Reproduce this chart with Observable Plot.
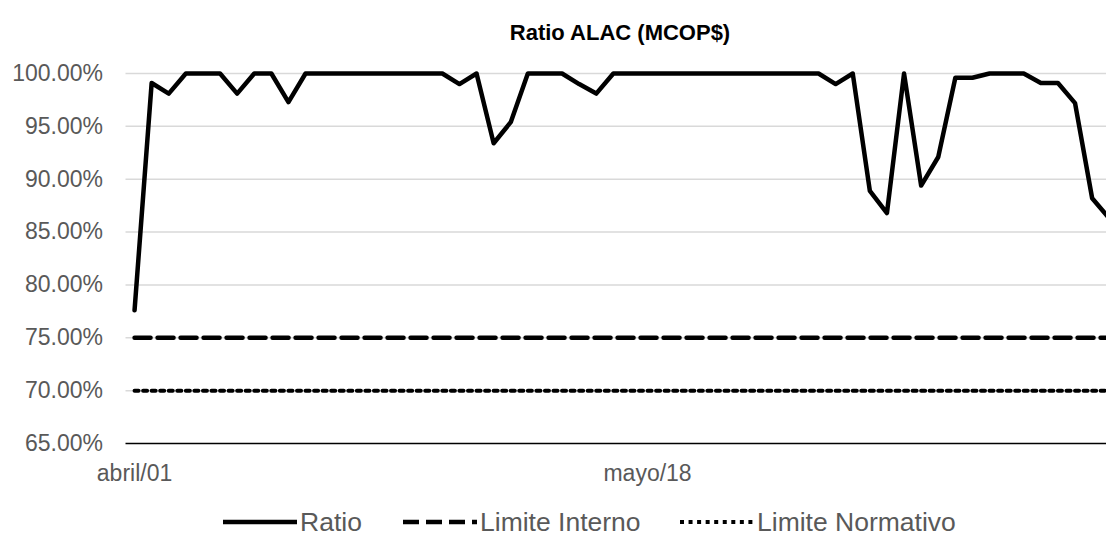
<!DOCTYPE html>
<html><head><meta charset="utf-8">
<script src="https://cdn.jsdelivr.net/npm/d3@7"></script>
<script src="https://cdn.jsdelivr.net/npm/@observablehq/plot@0.6"></script>
<style>
body{margin:0;background:#fff;font-family:"Liberation Sans",Arial,sans-serif;}
#wrap{position:relative;width:1106px;height:536px;overflow:hidden;background:#fff;}
#chart{position:absolute;top:0;left:0;}
#title{position:absolute;top:19px;left:0;width:1240px;text-align:center;font-weight:bold;font-size:22px;color:#000;line-height:28px;}
#legend{position:absolute;top:507px;left:0;width:1106px;height:30px;}
.item{position:absolute;top:0;height:30px;display:flex;align-items:center;font-size:26.5px;color:#595959;white-space:nowrap;}
.item svg{display:block;margin-right:3px;}
</style></head><body>
<div id="wrap"><div id="chart"></div><div id="title">Ratio ALAC (MCOP$)</div><div id="legend"></div></div>
<script>
// Category positions (one per reporting day); only two tick labels are shown
const categories = d3.range(58);
const tickLabels = {0: "abril/01", 30: "mayo/18"};
// Ratio ALAC (%)
const ratio = [77.6, 99.1, 98.1, 100, 100, 100, 98.1, 100, 100, 97.3,
  100, 100, 100, 100, 100, 100, 100, 100, 100, 99.0,
  100, 93.4, 95.4, 100, 100, 100, 99.0, 98.1, 100, 100,
  100, 100, 100, 100, 100, 100, 100, 100, 100, 100,
  100, 99.0, 100, 88.9, 86.8, 100, 89.4, 92.1, 99.6, 99.6,
  100, 100, 100, 99.1, 99.1, 97.2, 88.2, 86.3];
const limiteInterno = 75;
const limiteNormativo = 70;
const yTicks = [65, 70, 75, 80, 85, 90, 95, 100];

const data = categories.map((c, i) => ({c, ratio: ratio[i], interno: limiteInterno, normativo: limiteNormativo}));

const W = 1106, H = 500;
const chart = Plot.plot({
  width: W, height: H,
  marginTop: 73, marginBottom: H - 443, marginLeft: 125.5, marginRight: 0,
  style: {fontFamily: '"Liberation Sans", Arial, sans-serif', fontSize: "23px", color: "#595959", background: "#fff", overflow: "hidden"},
  x: {type: "linear", domain: [-0.5, 57.5], range: [125.5, 125.5 + 58 * 17.1]},
  y: {domain: [65, 100]},
  marks: [
    Plot.ruleY(yTicks.filter(d => d > 65), {stroke: "#d9d9d9", strokeWidth: 1.5}),
    Plot.axisY({ticks: yTicks, tickSize: 0, tickPadding: 23, tickFormat: d => d.toFixed(2) + "%", label: null, fill: "#595959"}),
    Plot.axisX({ticks: Object.keys(tickLabels).map(Number), tickSize: 0, tickPadding: 21, tickFormat: d => tickLabels[d], label: null, fill: "#595959"}),
    Plot.lineY(data, {x: "c", y: "normativo", stroke: "#000", strokeWidth: 4, strokeDasharray: "4,4.55"}),
    Plot.lineY(data, {x: "c", y: "interno", stroke: "#000", strokeWidth: 4.5, strokeDasharray: "16,7"}),
    Plot.lineY(data, {x: "c", y: "ratio", stroke: "#000", strokeWidth: 4.5, strokeLinejoin: "round"}),
    Plot.ruleY([65], {stroke: "#000", strokeWidth: 1.5})
  ]
});
document.getElementById("chart").appendChild(chart);

// Legend
const legendItems = [
  {label: "Ratio", left: 223, dash: null, w: 4.5},
  {label: "Limite Interno", left: 403, dash: "16,7", w: 4.5},
  {label: "Limite Normativo", left: 680, dash: "4,4.55", w: 4}
];
const legend = document.getElementById("legend");
for (const it of legendItems) {
  const div = document.createElement("div");
  div.className = "item";
  div.style.left = it.left + "px";
  div.innerHTML = `<svg width="74" height="10"><line x1="0" x2="74" y1="5" y2="5" stroke="#000" stroke-width="${it.w}" ${it.dash ? `stroke-dasharray="${it.dash}"` : ""}/></svg><span>${it.label}</span>`;
  legend.appendChild(div);
}
</script>
</body></html>
